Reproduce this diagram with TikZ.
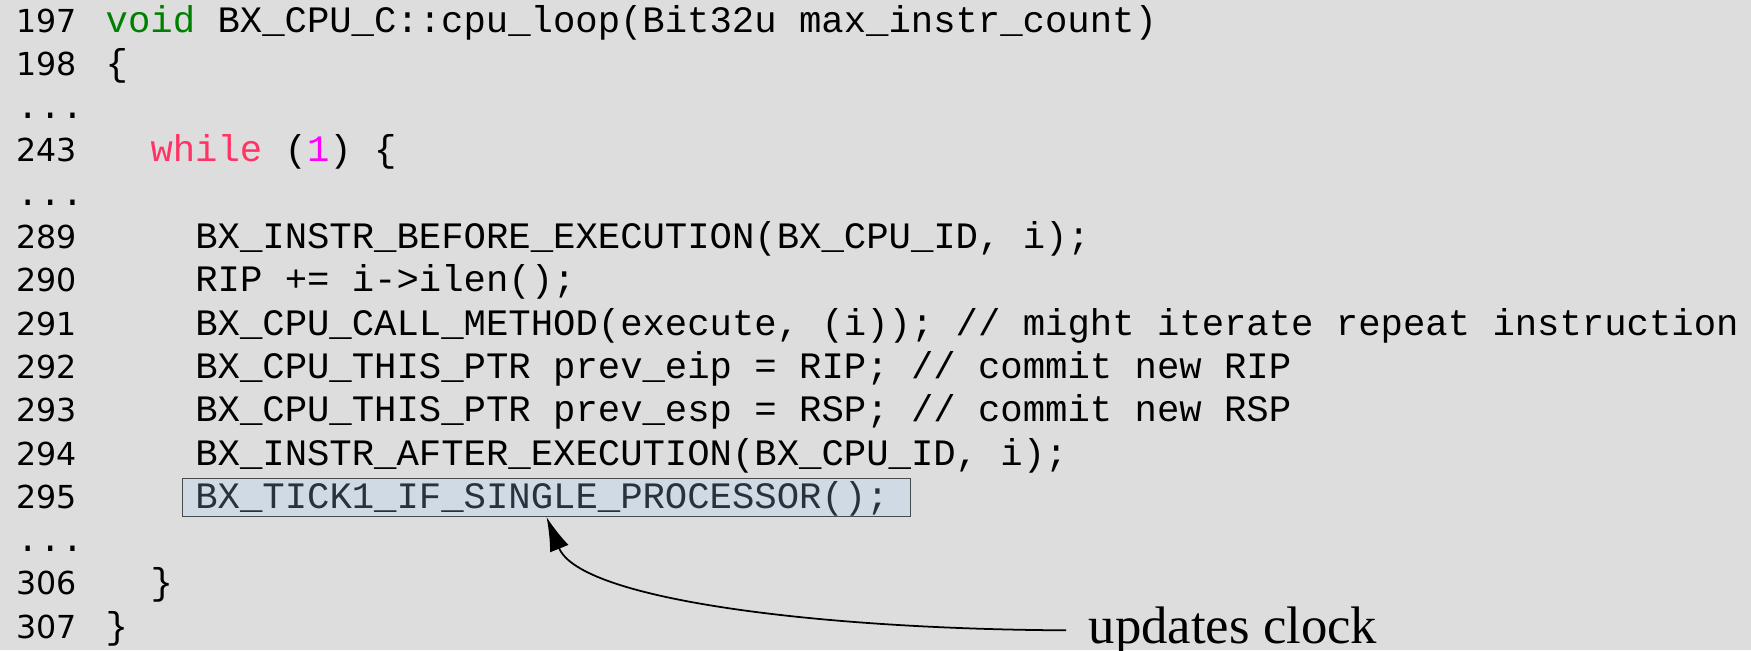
\documentclass[tikz,border=0pt]{standalone}
\usepackage{fontspec}
\setmainfont{Liberation Serif}
\newfontfamily\codefont{Liberation Mono}
\newfontfamily\numfont{DejaVu Sans}
\usetikzlibrary{arrows.meta}

\definecolor{pagebg}{RGB}{221,221,221}
\definecolor{boxfill}{RGB}{208,218,228}
\definecolor{boxline}{RGB}{70,75,80}
\definecolor{boxtext}{RGB}{40,50,62}
\definecolor{kwgreen}{RGB}{0,128,0}
\definecolor{kwpink}{RGB}{255,51,102}
\definecolor{nummag}{RGB}{255,0,255}

\begin{document}
\begin{tikzpicture}[
    x=0.01cm, y=-0.01cm,
    lnum/.style={anchor=base west, inner sep=0pt, font=\numfont\fontsize{9pt}{10pt}\selectfont},
    code/.style={anchor=base west, inner sep=0pt, font=\codefont\fontsize{10.6pt}{12pt}\selectfont},
    hilite/.style={code, draw=boxline, fill=boxfill, text=boxtext, line width=0.4pt, inner xsep=0.13cm, inner ysep=0pt, text height=0.30cm, text depth=0.08cm},
    note/.style={anchor=base west, inner xsep=0.22cm, inner ysep=0pt, font=\fontsize{15pt}{18pt}\selectfont},
    line/.style={draw, -{Latex[length=3.4mm, width=2mm]}, line width=0.5pt}
]
    \useasboundingbox (0,0) rectangle (1751,650);
    \fill[pagebg] (0,0) rectangle (1751,650);

    \node [lnum] (n197) at (16,32) {197};
    \node [code] (c197) at (105,32) {\textcolor{kwgreen}{void} BX\_CPU\_C::cpu\_loop(Bit32u max\_instr\_count)};
    \node [lnum] (n198) at (16,75.3) {198};
    \node [code] (c198) at (105,75.3) {\{};
    \node [code] (dots1) at (16,118.6) {...};
    \node [lnum] (n243) at (16,161.9) {243};
    \node [code] (c243) at (149.8,161.9) {\textcolor{kwpink}{while} (\textcolor{nummag}{1}) \{};
    \node [code] (dots2) at (16,205.2) {...};
    \node [lnum] (n289) at (16,248.5) {289};
    \node [code] (c289) at (194.6,248.5) {BX\_INSTR\_BEFORE\_EXECUTION(BX\_CPU\_ID, i);};
    \node [lnum] (n290) at (16,291.8) {290};
    \node [code] (c290) at (194.6,291.8) {RIP += i->ilen();};
    \node [lnum] (n291) at (16,335.1) {291};
    \node [code] (c291) at (194.6,335.1) {BX\_CPU\_CALL\_METHOD(execute, (i)); // might iterate repeat instruction};
    \node [lnum] (n292) at (16,378.4) {292};
    \node [code] (c292) at (194.6,378.4) {BX\_CPU\_THIS\_PTR prev\_eip = RIP; // commit new RIP};
    \node [lnum] (n293) at (16,421.7) {293};
    \node [code] (c293) at (194.6,421.7) {BX\_CPU\_THIS\_PTR prev\_esp = RSP; // commit new RSP};
    \node [lnum] (n294) at (16,465) {294};
    \node [code] (c294) at (194.6,465) {BX\_INSTR\_AFTER\_EXECUTION(BX\_CPU\_ID, i);};
    \node [lnum] (n295) at (16,508.3) {295};
    \node [hilite] (tick) at (181.6,508.3) {BX\_TICK1\_IF\_SINGLE\_PROCESSOR();\kern0.09cm};
    \node [code] (dots3) at (16,551.6) {...};
    \node [lnum] (n306) at (16,594.9) {306};
    \node [code] (c306) at (149.8,594.9) {\}};
    \node [lnum] (n307) at (16,638.2) {307};
    \node [code] (c307) at (105,638.2) {\}};

    \node [note] (clock) at (1066,643) {updates clock};

    \path [line] (clock.west) .. controls (820,629) and (580,600) .. (tick.south);
\end{tikzpicture}
\end{document}
